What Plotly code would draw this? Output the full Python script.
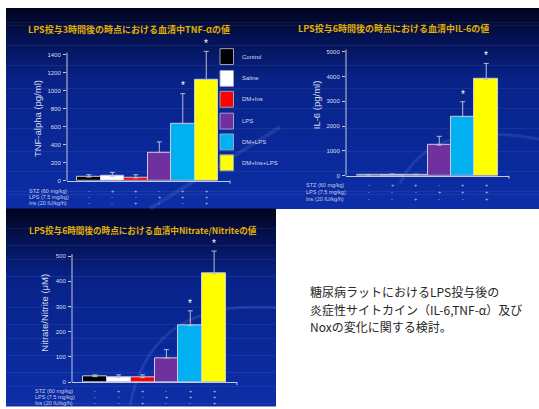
import plotly.graph_objects as go

W, H = 539, 409

groups = ["Control", "Saline", "DM+Ins", "LPS", "DM+LPS", "DM+Ins+LPS"]
colors = ["#000000", "#ffffff", "#ff0000", "#7030a0", "#00b0f0", "#ffff00"]

tnf = [40, 50, 30, 314, 634, 1124]
tnf_err = [26, 42, 36, 117, 332, 312]
il6 = [20, 40, 30, 1230, 2380, 3890]
il6_err = [30, 30, 30, 357, 600, 635]
nox = [22, 20, 18, 96, 224, 430]
nox_err = [7, 9, 11, 33, 59, 90]
significant = [False, False, False, False, True, True]

tnf_ticks = [0, 200, 400, 600, 800, 1000, 1200, 1400]
il6_ticks = [0, 1000, 2000, 3000, 4000, 5000]
nox_ticks = [0, 100, 200, 300, 400, 500]

row_labels = ["STZ (60 mg/kg)", "LPS (7.5 mg/kg)", "Ins (20 IU/kg/h)"]
stz_signs = ["-", "+", "+", "-", "+", "+"]
lps_signs = ["-", "-", "-", "+", "+", "+"]
ins_signs = ["-", "-", "+", "-", "-", "+"]

titles = ["LPS投与3時間後の時点における血清中TNF-αの値",
          "LPS投与6時間後の時点における血清中IL-6の値",
          "LPS投与6時間後の時点における血清中Nitrate/Nitriteの値"]
ytitles = ["TNF-alpha (pg/ml)", "IL-6 (pg/ml)", "Nitrate/Nitrite (μM)"]
note_lines = ["糖尿病ラットにおけるLPS投与後の",
              "炎症性サイトカイン（IL-6,TNF-α）及び",
              "Noxの変化に関する検討。"]


def px(x):
    return x / W


def py(y):
    return 1 - y / H


fig = go.Figure()
shapes = []
annotations = []

# ---- gradient backgrounds ----
stops = [(0.0, (1, 4, 28)), (0.15, (4, 18, 82)), (0.35, (8, 34, 135)), (1.0, (12, 46, 168))]


def col_at(t):
    for (t0, c0), (t1, c1) in zip(stops[:-1], stops[1:]):
        if t <= t1:
            f = (t - t0) / (t1 - t0) if t1 > t0 else 0
            return "rgb(%d,%d,%d)" % tuple(round(a + (b - a) * f) for a, b in zip(c0, c1))
    return "rgb(%d,%d,%d)" % stops[-1][1]


def gradient(x0, x1, y0, y1, n=70):
    h = (y1 - y0) / n
    for i in range(n):
        t = (i + 0.5) / n
        shapes.append(dict(type="rect", xref="paper", yref="paper",
                           x0=px(x0), x1=px(x1), y0=py(y0 + i * h), y1=py(y0 + (i + 1) * h + 0.6),
                           fillcolor=col_at(t), line=dict(width=0), layer="below"))


gradient(6, 539, 8, 210)
gradient(6, 276, 210, 409)

# faint swooshes
swoosh = "rgba(120,150,230,0.18)"
shapes.append(dict(type="path", xref="paper", yref="paper", layer="below",
                   path="M %f %f Q %f %f %f %f" % (px(150), py(210), px(230), py(160), px(280), py(128)),
                   line=dict(color=swoosh, width=4)))
shapes.append(dict(type="path", xref="paper", yref="paper", layer="below",
                   path="M %f %f Q %f %f %f %f" % (px(400), py(185), px(430), py(120), px(539), py(140)),
                   line=dict(color=swoosh, width=3)))
shapes.append(dict(type="path", xref="paper", yref="paper", layer="below",
                   path="M %f %f Q %f %f %f %f" % (px(130), py(409), px(150), py(300), px(276), py(310)),
                   line=dict(color=swoosh, width=3)))

# ---- panels ----
panels = [
    dict(vals=tnf, err=tnf_err, xdom=(67, 230), ydom=(182, 53), ticks=tnf_ticks,
         xr=(-0.93, 6.01), title=titles[0], tpos=(26, 30), ytitle=ytitles[0], ytpos=(37, 120),
         rows_x=27, rows_y=(192, 198, 204), tsize=9),
    dict(vals=il6, err=il6_err, xdom=(346, 509), ydom=(177, 50), ticks=il6_ticks,
         xr=(-0.97, 5.97), title=titles[1], tpos=(296, 29), ytitle=ytitles[1], ytpos=(316, 106),
         rows_x=304, rows_y=(186, 193, 200), tsize=9),
    dict(vals=nox, err=nox_err, xdom=(72, 237), ydom=(385, 256), ticks=nox_ticks,
         xr=(-0.96, 5.96), title=titles[2], tpos=(27, 232), ytitle=ytitles[2], ytpos=(45, 315),
         rows_x=33, rows_y=(394, 400, 406), tsize=8.6),
]

axis_col = "#c4c8dc"
tick_font = dict(family="Liberation Sans, Arial", size=6, color="#d8dcec")
EXTRA = 26  # extra headroom in px above the axis line so stars stay visible

for i, p in enumerate(panels):
    k = "" if i == 0 else str(i + 1)
    xa, ya = "x" + k, "y" + k
    y0p, ytopp = p["ydom"]
    top = p["ticks"][-1]
    scale = top / (y0p - (ytopp + 2))
    line_top = scale * (y0p - ytopp)
    ymax = scale * (y0p - (ytopp - EXTRA))
    xs = list(range(len(groups)))
    fig.add_trace(go.Bar(
        x=xs, y=p["vals"], xaxis=xa, yaxis=ya, width=1,
        marker=dict(color=colors, line=dict(color="#c8cce0", width=1)),
        error_y=dict(type="data", array=p["err"], arrayminus=[0] * 6, symmetric=False,
                     color="#b8bcd0", thickness=1, width=2.5),
        showlegend=False, hoverinfo="skip"))
    for x, v, e, s in zip(xs, p["vals"], p["err"], significant):
        if s:
            annotations.append(dict(text="*", xref=xa, yref=ya, x=x, y=v + e + 0.062 * top,
                                    xanchor="center", yanchor="middle", showarrow=False,
                                    font=dict(family="Liberation Sans, Arial", size=10, color="#ffffff")))
    fig.layout["xaxis" + k] = dict(domain=[px(p["xdom"][0]), px(p["xdom"][1])], range=list(p["xr"]),
                                   anchor=ya, showgrid=False, zeroline=False, showticklabels=False,
                                   showline=True, linecolor=axis_col, linewidth=1, ticks="", fixedrange=True)
    fig.layout["yaxis" + k] = dict(domain=[py(y0p), py(ytopp - EXTRA)], range=[0, ymax], anchor=xa,
                                   showgrid=False, zeroline=False, showline=False,
                                   ticks="outside", ticklen=3, tickcolor=axis_col,
                                   tickvals=p["ticks"], tickfont=tick_font, ticklabelstandoff=1)
    # visible y-axis line from 0 to just above the top tick
    shapes.append(dict(type="line", xref=xa + " domain", yref=ya, x0=0, x1=0, y0=0, y1=line_top,
                       line=dict(color=axis_col, width=1)))
    shapes.append(dict(type="line", xref="paper", yref="paper",
                       x0=px(p["xdom"][1]), x1=px(p["xdom"][1]), y0=py(y0p), y1=py(y0p + 3),
                       line=dict(color=axis_col, width=1)))
    annotations.append(dict(text="<b>" + p["title"] + "</b>", xref="paper", yref="paper",
                            x=px(p["tpos"][0]), y=py(p["tpos"][1]), xanchor="left", yanchor="middle",
                            showarrow=False,
                            font=dict(family="Noto Sans CJK JP", size=p["tsize"], color="#e2b000")))
    annotations.append(dict(text=p["ytitle"], xref="paper", yref="paper", textangle=-90,
                            x=px(p["ytpos"][0]), y=py(p["ytpos"][1]), xanchor="center", yanchor="middle",
                            showarrow=False,
                            font=dict(family="Liberation Sans, Arial", size=9.5, color="#d8dcec")))
    for r, (lab, signs) in enumerate(zip(row_labels, [stz_signs, lps_signs, ins_signs])):
        yy = py(p["rows_y"][r])
        annotations.append(dict(text=lab, xref="paper", yref="paper", x=px(p["rows_x"]), y=yy,
                                xanchor="left", yanchor="middle", showarrow=False,
                                font=dict(family="Liberation Sans, Arial", size=5.5, color="#c8cce0")))
        for j, s in enumerate(signs):
            annotations.append(dict(text=s, xref=xa, yref="paper", x=j, y=yy,
                                    xanchor="center", yanchor="middle", showarrow=False,
                                    font=dict(family="Liberation Sans, Arial", size=5.5, color="#c8cce0")))

# ---- legend (panel 1) ----
leg_y = [57, 79, 100, 122, 143, 164]
for g, c, yc in zip(groups, colors, leg_y):
    shapes.append(dict(type="rect", xref="paper", yref="paper", x0=px(220), x1=px(233.5),
                       y0=py(yc + 8), y1=py(yc - 8), fillcolor=c, line=dict(color="#9aa0c0", width=1)))
    annotations.append(dict(text=g, xref="paper", yref="paper", x=px(240), y=py(yc),
                            xanchor="left", yanchor="middle", showarrow=False,
                            font=dict(family="Liberation Sans, Arial", size=6, color="#d8dcec")))

# ---- note text ----
for line, yc in zip(note_lines, [294, 311.5, 329]):
    annotations.append(dict(text=line, xref="paper", yref="paper", x=px(308), y=py(yc),
                            xanchor="left", yanchor="middle", showarrow=False,
                            font=dict(family="Noto Sans CJK JP", size=12, color="#262626")))

fig.update_layout(width=W, height=H, margin=dict(l=0, r=0, t=0, b=0),
                  paper_bgcolor="#ffffff", plot_bgcolor="rgba(0,0,0,0)",
                  barmode="overlay", bargap=0, shapes=shapes, annotations=annotations)

fig.write_html("out.html")
